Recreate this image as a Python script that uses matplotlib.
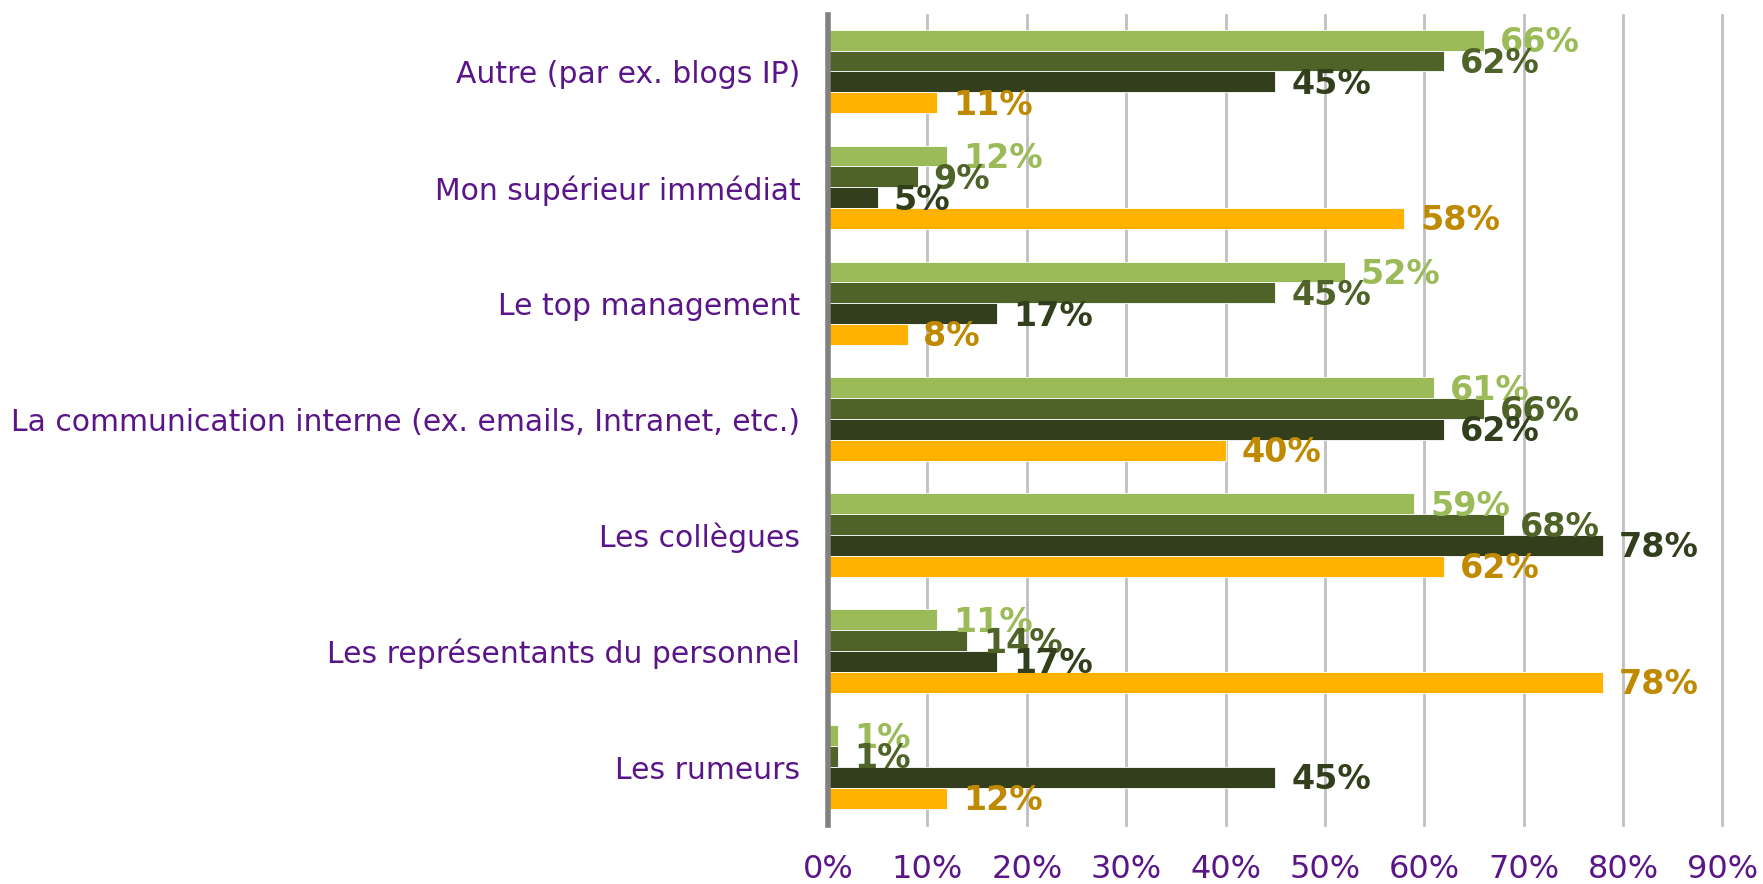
import numpy as np
import matplotlib.pyplot as plt

categories = [
    "Autre (par ex. blogs IP)",
    "Mon supérieur immédiat",
    "Le top management",
    "La communication interne (ex. emails, Intranet, etc.)",
    "Les collègues",
    "Les représentants du personnel",
    "Les rumeurs",
]
# series listed top-to-bottom within each group
series_light = [66, 12, 52, 61, 59, 11, 1]
series_mid = [62, 9, 45, 66, 68, 14, 1]
series_dark = [45, 5, 17, 62, 78, 17, 45]
series_orange = [11, 58, 8, 40, 62, 78, 12]
x_ticks = [0, 10, 20, 30, 40, 50, 60, 70, 80, 90]

bar_colors = ["#9BBB59", "#4F6228", "#333F1C", "#FFB300"]
label_colors = ["#9BBB59", "#4F6228", "#333F1C", "#C08A00"]
purple = "#5A1688"

fig = plt.figure(figsize=(17.63, 8.84), dpi=100)
ax = fig.add_axes([0.4697, 0.0667, 0.5073, 0.9168])

n = len(categories)
y = np.arange(n)[::-1]
h = 0.18
offsets = [1.5 * h, 0.5 * h, -0.5 * h, -1.5 * h]
all_series = [series_light, series_mid, series_dark, series_orange]

for vals, off, bc, lc in zip(all_series, offsets, bar_colors, label_colors):
    ax.barh(y + off, vals, height=h, color=bc, edgecolor="#ffffff", linewidth=0.6, zorder=3)
    for yi, v in zip(y, vals):
        ax.text(v + 1.6, yi + off - 0.02, f"{v}%", color=lc, fontsize=24,
                fontweight="bold", va="center", ha="left", zorder=4)

ax.set_xlim(0, 90)
ax.set_ylim(-0.5, 6.49)
ax.set_xticks(x_ticks)
ax.set_xticklabels([f"{t}%" for t in x_ticks], color=purple, fontsize=23)
ax.set_yticks(y)
ax.set_yticklabels(categories, color=purple, fontsize=21.5)
ax.tick_params(axis="both", length=0)
ax.tick_params(axis="x", pad=21)
ax.tick_params(axis="y", pad=20)

ax.grid(axis="x", color="#C0C0C0", linewidth=2, zorder=0)
for gl in ax.get_xgridlines():
    gl.set_clip_on(False)
for s in ["top", "right", "bottom"]:
    ax.spines[s].set_visible(False)
ax.spines["left"].set_color("#808080")
ax.spines["left"].set_linewidth(4)
ax.spines["left"].set_zorder(5)

fig.savefig("out.png", dpi=100)
